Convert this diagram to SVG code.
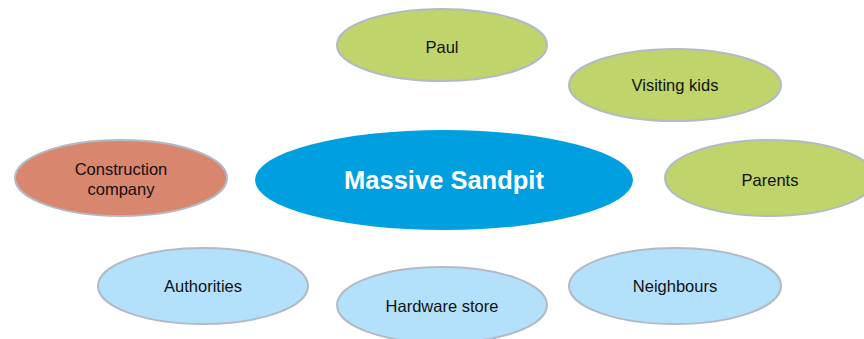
<svg xmlns="http://www.w3.org/2000/svg" width="864" height="339" viewBox="0 0 864 339">
<style>
.n{stroke:#b2bac6;stroke-width:2}
.g{fill:#bfd46a}
.r{fill:#d9866e}
.b{fill:#b3e1fb}
.c{fill:#009fe0}
text{font-family:"Liberation Sans",Arial,sans-serif;font-size:16.5px;fill:#111;text-anchor:middle}
.t{font-size:25.5px;font-weight:bold;fill:#fff}
</style>
<rect width="864" height="339" fill="#fff"/>
<g id="connectors"></g>
<g id="paul"><ellipse class="n g" cx="442" cy="45" rx="105" ry="36"/><text x="442" y="53">Paul</text></g>
<g id="visiting-kids"><ellipse class="n g" cx="675" cy="85" rx="106" ry="36"/><text x="675" y="91">Visiting kids</text></g>
<g id="parents"><ellipse class="n g" cx="770" cy="178" rx="105" ry="38"/><text x="770" y="186">Parents</text></g>
<g id="construction"><ellipse class="n r" cx="121" cy="178" rx="106" ry="38"/><text x="121" y="175">Construction</text><text x="121" y="195">company</text></g>
<g id="sandpit"><ellipse class="c" cx="444" cy="180" rx="189" ry="50"/><text class="t" x="444" y="189">Massive Sandpit</text></g>
<g id="authorities"><ellipse class="n b" cx="203" cy="286" rx="105" ry="38"/><text x="203" y="292">Authorities</text></g>
<g id="hardware"><ellipse class="n b" cx="442" cy="305" rx="105" ry="38"/><text x="442" y="312">Hardware store</text></g>
<g id="neighbours"><ellipse class="n b" cx="675" cy="286" rx="106" ry="38"/><text x="675" y="292">Neighbours</text></g>
</svg>
